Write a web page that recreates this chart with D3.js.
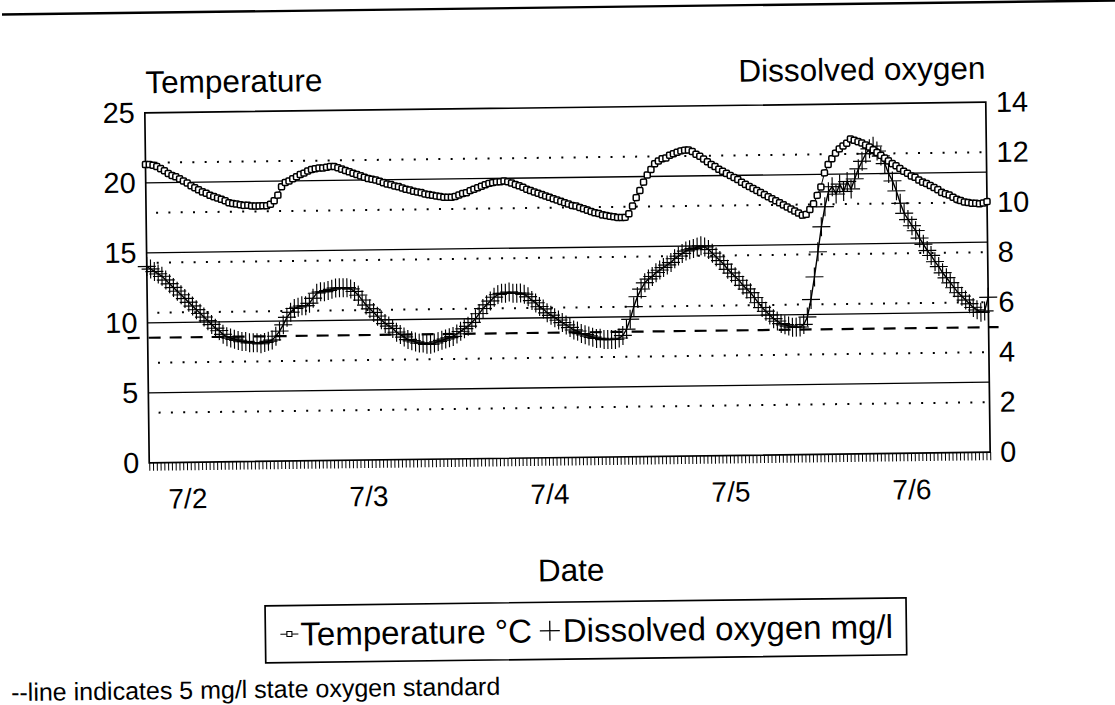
<!DOCTYPE html>
<html><head><meta charset="utf-8">
<script src="https://cdn.jsdelivr.net/npm/d3@7"></script>
<style>
body{margin:0;background:#fff}
svg{display:block}
text{font-family:"Liberation Sans",Arial,Helvetica,sans-serif;fill:#000}
</style>
</head><body>
<svg id="chart" width="1115" height="705"></svg>
<script>
// ---- data (readings every 30 minutes, first reading 7/1 19:00) ----
const startTime = new Date(1993, 6, 1, 19, 0);
const stepMinutes = 30;

const temperature = [
 21.3,21.3,21.25,21.15,21.0,20.85,20.65,20.5,20.4,20.25,
 20.1,19.95,19.75,19.6,19.45,19.3,19.2,19.05,18.95,18.85,
 18.75,18.65,18.5,18.45,18.4,18.35,18.3,18.3,18.25,18.25,
 18.25,18.25,18.25,18.35,18.6,19.0,19.6,19.9,20.0,20.15,
 20.3,20.45,20.55,20.7,20.8,20.85,20.9,20.9,20.95,21.0,
 21.0,20.9,20.8,20.7,20.6,20.5,20.4,20.3,20.2,20.1,
 20.05,20.0,19.9,19.8,19.7,19.65,19.55,19.5,19.4,19.3,
 19.25,19.15,19.1,19.05,18.95,18.9,18.85,18.8,18.75,18.7,
 18.7,18.7,18.75,18.85,18.95,19.0,19.15,19.25,19.35,19.45,
 19.55,19.65,19.7,19.75,19.75,19.8,19.75,19.65,19.55,19.45,
 19.35,19.2,19.1,19.0,18.9,18.8,18.7,18.6,18.5,18.4,
 18.3,18.2,18.1,18.0,17.95,17.85,17.75,17.65,17.55,17.45,
 17.4,17.3,17.25,17.2,17.15,17.1,17.1,17.1,17.35,17.9,
 18.5,19.0,19.6,20.1,20.5,20.9,21.1,21.25,21.3,21.5,
 21.6,21.7,21.8,21.85,21.85,21.75,21.55,21.4,21.2,21.0,
 20.8,20.65,20.45,20.3,20.15,20.0,19.85,19.7,19.5,19.35,
 19.2,19.05,18.9,18.75,18.6,18.45,18.3,18.15,18.0,17.85,
 17.7,17.55,17.4,17.25,17.1,17.15,17.5,17.9,18.5,19.1,
 20.1,20.7,21.1,21.5,21.8,22.0,22.2,22.5,22.4,22.3,
 22.2,22.05,21.9,21.7,21.5,21.3,21.1,20.9,20.7,20.55,
 20.35,20.15,20.0,19.8,19.7,19.5,19.35,19.25,19.1,18.95,
 18.8,18.6,18.5,18.4,18.25,18.1,18.0,17.9,17.85,17.8,
 17.8,17.75,17.8,17.9
];

const dissolvedOxygen = [
 7.85,7.75,7.65,7.55,7.45,7.3,7.15,7.0,6.85,6.7,
 6.55,6.4,6.25,6.1,5.95,5.8,5.65,5.5,5.35,5.25,
 5.1,5.0,4.95,4.9,4.85,4.8,4.8,4.75,4.75,4.75,
 4.7,4.75,4.8,4.85,5.0,5.2,5.45,5.75,5.95,6.1,
 6.15,6.2,6.2,6.3,6.5,6.7,6.75,6.75,6.8,6.85,
 6.9,6.9,6.9,6.9,6.85,6.75,6.6,6.4,6.2,6.05,
 5.9,5.75,5.6,5.45,5.35,5.25,5.1,5.0,4.9,4.8,
 4.75,4.7,4.65,4.65,4.6,4.6,4.65,4.7,4.75,4.8,
 4.85,4.9,5.0,5.1,5.2,5.3,5.45,5.6,5.8,6.0,
 6.15,6.3,6.45,6.55,6.6,6.6,6.65,6.6,6.6,6.6,
 6.55,6.45,6.3,6.2,6.05,5.95,5.8,5.7,5.6,5.5,
 5.4,5.3,5.2,5.1,5.05,4.95,4.9,4.85,4.8,4.75,
 4.75,4.7,4.7,4.7,4.7,4.75,4.85,5.1,5.5,6.0,
 6.4,6.7,6.95,7.1,7.2,7.35,7.45,7.55,7.65,7.75,
 7.9,8.0,8.1,8.2,8.25,8.3,8.35,8.4,8.35,8.25,
 8.1,7.95,7.8,7.65,7.45,7.3,7.15,7.0,6.8,6.65,
 6.5,6.3,6.1,5.9,5.75,5.6,5.45,5.35,5.25,5.2,
 5.15,5.1,5.1,5.1,5.2,5.5,6.2,7.1,8.1,9.1,
 9.9,10.5,10.7,10.4,10.8,10.5,10.9,10.6,11.0,11.4,
 11.7,12.0,12.2,12.3,12.1,11.9,11.6,11.2,10.9,10.5,
 10.0,9.6,9.35,9.1,8.9,8.6,8.35,8.1,7.9,7.65,
 7.45,7.2,7.0,6.8,6.6,6.4,6.25,6.1,5.95,5.8,
 5.7,5.6,5.65,6.2
];

const tempTicks = [0, 5, 10, 15, 20, 25];
const doTicks = [0, 2, 4, 6, 8, 10, 12, 14];
const doStandard = 5;
const leftTitle = "Temperature";
const rightTitle = "Dissolved oxygen";
const xTitle = "Date";
const legendLabels = ["Temperature \u00B0C", "Dissolved oxygen mg/l"];
const footnote = "--line indicates 5 mg/l state oxygen standard";

// ---- layout ----
const W = 1115, H = 705;
const plot = {left: 147, right: 988, top: 107.5, bottom: 457.5};
const FS = 28;      // tick labels
const FT = 31.5;    // titles

const times = temperature.map((_, i) => d3.timeMinute.offset(startTime, i * stepMinutes));

const x = d3.scaleTime().domain([times[0], times[times.length - 1]]).range([plot.left, plot.right]);
const yT = d3.scaleLinear().domain([0, 25]).range([plot.bottom, plot.top]);
const yO = d3.scaleLinear().domain([0, 14]).range([plot.bottom, plot.top]);

const svg = d3.select("#chart");
svg.append("rect").attr("width", W).attr("height", H).attr("fill", "#fff");

// scan page rule at the top
svg.append("line").attr("x1", 2).attr("y1", 14.5).attr("x2", 1115).attr("y2", 0.5)
  .attr("stroke", "#000").attr("stroke-width", 2.4);

const g = svg.append("g").attr("transform", "rotate(-0.72 567.5 282.5)");

// dotted grid at right-axis ticks
g.append("g").selectAll("line").data(doTicks.filter(d => d > 0 && d < 14)).join("line")
  .attr("x1", plot.left + 10).attr("x2", plot.right - 4)
  .attr("y1", d => yO(d)).attr("y2", d => yO(d))
  .attr("stroke", "#000").attr("stroke-width", 2).attr("stroke-dasharray", "2 10.3");

// solid grid at left-axis ticks
g.append("g").selectAll("line").data(tempTicks.filter(d => d > 0 && d < 25)).join("line")
  .attr("x1", plot.left).attr("x2", plot.right)
  .attr("y1", d => yT(d)).attr("y2", d => yT(d))
  .attr("stroke", "#000").attr("stroke-width", 1.3);

// plot frame
g.append("rect").attr("x", plot.left).attr("y", plot.top)
  .attr("width", plot.right - plot.left).attr("height", plot.bottom - plot.top)
  .attr("fill", "none").attr("stroke", "#000").attr("stroke-width", 1.7);

// 5 mg/l standard
g.append("line").attr("x1", plot.left - 20).attr("x2", plot.right + 10)
  .attr("y1", yO(doStandard)).attr("y2", yO(doStandard))
  .attr("stroke", "#000").attr("stroke-width", 2.2).attr("stroke-dasharray", "12 9");

// minor ticks at every reading
const minor = g.append("g").attr("transform", `translate(0,${plot.bottom})`)
  .call(d3.axisBottom(x).tickValues(times).tickSize(8).tickFormat(""));
minor.select(".domain").remove();
minor.selectAll("line").attr("stroke", "#000").attr("stroke-width", 1);

// day labels
const days = d3.timeDay.range(d3.timeDay.ceil(times[0]), times[times.length - 1]);
const xAxis = g.append("g").attr("transform", `translate(0,${plot.bottom})`)
  .call(d3.axisBottom(x).tickValues(days).tickSize(0).tickPadding(46).tickFormat(d3.timeFormat("%-m/%-d")));
xAxis.select(".domain").remove();
xAxis.selectAll("text").attr("font-size", FS).attr("font-family", null).attr("dy", "0");

// left axis
const yAxisL = g.append("g").attr("transform", `translate(${plot.left},0)`)
  .call(d3.axisLeft(yT).tickValues(tempTicks).tickSize(0).tickPadding(10));
yAxisL.select(".domain").remove();
yAxisL.selectAll("text").attr("font-size", FS + 1).attr("font-family", null);

// right axis
const yAxisR = g.append("g").attr("transform", `translate(${plot.right},0)`)
  .call(d3.axisRight(yO).tickValues(doTicks).tickSize(0).tickPadding(10));
yAxisR.select(".domain").remove();
yAxisR.selectAll("text").attr("font-size", FS + 1).attr("font-family", null);

// titles
g.append("text").attr("x", plot.left + 1).attr("y", 88).attr("font-size", FT).text(leftTitle);
g.append("text").attr("x", plot.right).attr("y", 84).attr("text-anchor", "end").attr("font-size", FT).text(rightTitle);
g.append("text").attr("x", (plot.left + plot.right) / 2).attr("y", 581).attr("text-anchor", "middle").attr("font-size", FT).text(xTitle);

// series: dissolved oxygen
const doLine = d3.line().x((d, i) => x(times[i])).y(d => yO(d));
g.append("path").datum(dissolvedOxygen).attr("d", doLine)
  .attr("fill", "none").attr("stroke", "#000").attr("stroke-width", 1.4);
const plusPath = (w, h) => `M${-w/2},0H${w/2}M0,${-h/2}V${h/2}`;
g.append("g").selectAll("path").data(dissolvedOxygen).join("path")
  .attr("transform", (d, i) => `translate(${x(times[i])},${yO(d)})`)
  .attr("d", plusPath(18, 19)).attr("fill", "none").attr("stroke", "#000").attr("stroke-width", 1.15);

// series: temperature
const tLine = d3.line().x((d, i) => x(times[i])).y(d => yT(d));
g.append("path").datum(temperature).attr("d", tLine)
  .attr("fill", "none").attr("stroke", "#000").attr("stroke-width", 1);
g.append("g").selectAll("rect").data(temperature).join("rect")
  .attr("x", (d, i) => x(times[i]) - 3).attr("y", d => yT(d) - 3)
  .attr("width", 6).attr("height", 6).attr("rx", 1.2)
  .attr("fill", "#fff").attr("stroke", "#000").attr("stroke-width", 1.5);

// legend
const FL = 33;
const leg = g.append("g");
const box = {x: 261, y: 602, w: 641, h: 57};
leg.append("rect").attr("x", box.x).attr("y", box.y).attr("width", box.w).attr("height", box.h)
  .attr("fill", "#fff").attr("stroke", "#000").attr("stroke-width", 1.7);
const ly = box.y + box.h / 2;
leg.append("line").attr("x1", box.x + 15).attr("x2", box.x + 33).attr("y1", ly).attr("y2", ly)
  .attr("stroke", "#000").attr("stroke-width", 1);
leg.append("rect").attr("x", box.x + 21.5).attr("y", ly - 2.5).attr("width", 5).attr("height", 5)
  .attr("fill", "#fff").attr("stroke", "#000").attr("stroke-width", 1.1);
const t1 = leg.append("text").attr("x", box.x + 35).attr("y", ly + 11.5).attr("font-size", FL).text(legendLabels[0]);
const t1end = box.x + 35 + t1.node().getComputedTextLength();
leg.append("path").attr("transform", `translate(${t1end + 18},${ly})`).attr("d", plusPath(20, 20))
  .attr("fill", "none").attr("stroke", "#000").attr("stroke-width", 1.3);
leg.append("text").attr("x", t1end + 31).attr("y", ly + 11.5).attr("font-size", FL).text(legendLabels[1]);

// footnote
g.append("text").attr("x", 6).attr("y", 694).attr("font-size", 25).text(footnote);
</script>
</body></html>
